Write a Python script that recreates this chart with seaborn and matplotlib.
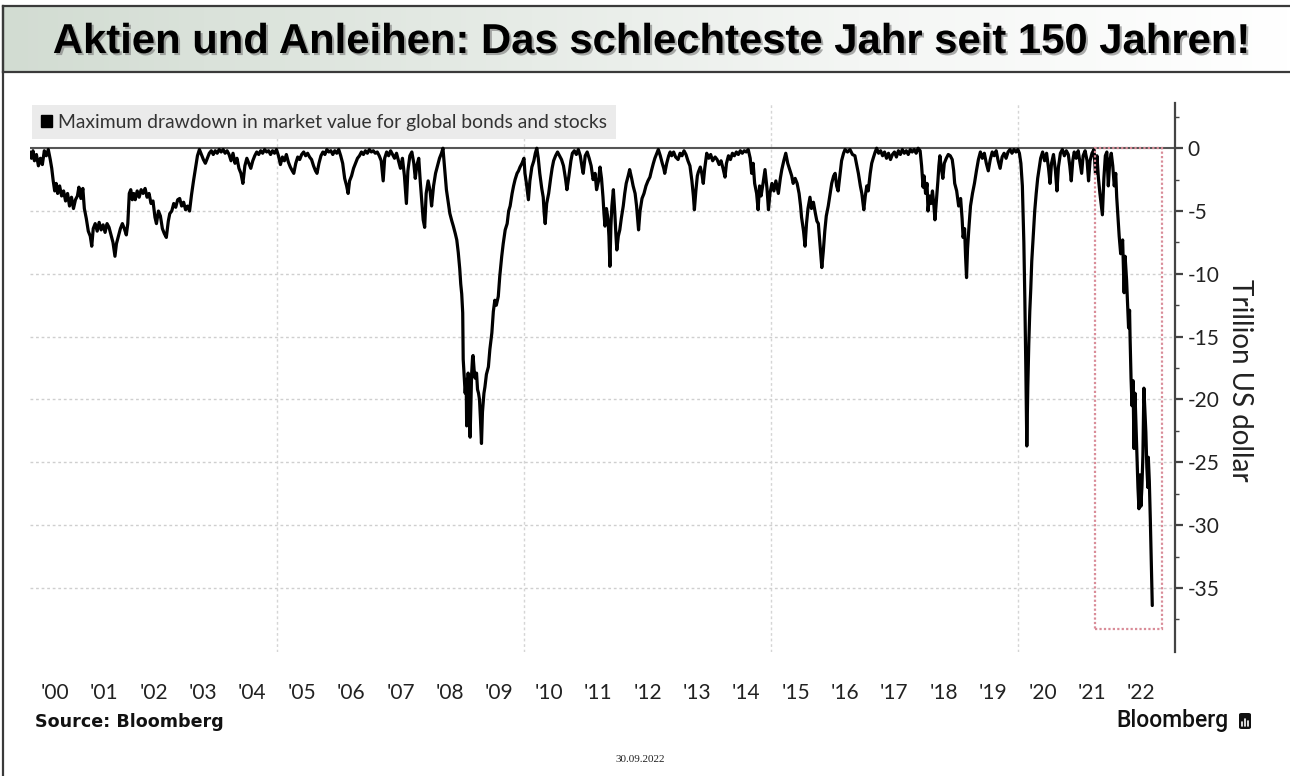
import numpy as np
import pandas as pd
import matplotlib
matplotlib.use("Agg")
import matplotlib.pyplot as plt
import seaborn as sns
from matplotlib.patches import Rectangle, Patch, FancyBboxPatch
from matplotlib.lines import Line2D
from matplotlib.colors import LinearSegmentedColormap
from matplotlib import patheffects as pe

# ---------------- data (years since 2000, drawdown in trillion USD) ----------------
era_2000_2003 = [
    (0.00, -0.3), (0.03, -0.8), (0.06, -0.2), (0.09, -1.0), (0.13, -0.5), (0.17, -1.4), (0.21, -0.8),
    (0.25, -1.3), (0.29, -0.2), (0.33, -0.6), (0.37, -0.1), (0.41, -0.9), (0.44, -1.6), (0.47, -2.6),
    (0.50, -3.4), (0.53, -2.8), (0.56, -3.6), (0.60, -3.0), (0.64, -3.8), (0.68, -3.4), (0.72, -4.2),
    (0.76, -3.6), (0.80, -4.6), (0.84, -3.9), (0.88, -4.8), (0.92, -4.1), (0.96, -3.8), (0.99, -3.1),
    (1.03, -4.0), (1.07, -3.2), (1.10, -4.8), (1.14, -5.6), (1.18, -6.6), (1.22, -7.0), (1.25, -7.8),
    (1.28, -6.4), (1.32, -6.0), (1.36, -6.6), (1.40, -5.9), (1.44, -6.5), (1.48, -6.1), (1.52, -6.7),
    (1.56, -6.0), (1.60, -6.3), (1.64, -6.9), (1.68, -7.5), (1.72, -8.6), (1.75, -7.6), (1.79, -7.0),
    (1.83, -6.4), (1.87, -6.0), (1.91, -6.4), (1.95, -6.9), (1.98, -6.0),
    (2.01, -3.6), (2.04, -3.3), (2.07, -4.1), (2.10, -3.6), (2.13, -4.1), (2.17, -3.4), (2.21, -3.9),
    (2.25, -3.3), (2.29, -3.6), (2.33, -3.2), (2.37, -3.9), (2.41, -3.6), (2.45, -4.4), (2.49, -4.2),
    (2.53, -5.5), (2.56, -6.0), (2.60, -5.0), (2.64, -5.4), (2.68, -6.4), (2.72, -6.8), (2.76, -7.1),
    (2.80, -5.8), (2.83, -5.2), (2.87, -5.0), (2.91, -4.4), (2.95, -4.7), (2.99, -4.1),
    (3.03, -4.0), (3.07, -4.6), (3.11, -4.3), (3.15, -4.9), (3.19, -4.6), (3.23, -5.0), (3.27, -3.7),
    (3.31, -2.6), (3.35, -1.6), (3.39, -0.6), (3.43, -0.1), (3.47, -0.5), (3.51, -0.9), (3.55, -1.2),
    (3.59, -0.8), (3.63, -0.4), (3.67, -0.2), (3.71, -0.5), (3.75, -0.2), (3.79, -0.4), (3.83, -0.1),
    (3.87, -0.3), (3.91, -0.1), (3.95, -0.4), (3.99, -0.2),
]

era_2004_2007 = [
    (4.03, -0.5), (4.07, -1.0), (4.11, -0.4), (4.15, -1.2), (4.19, -0.8), (4.23, -1.6), (4.27, -2.0),
    (4.31, -2.8), (4.35, -1.4), (4.39, -0.8), (4.43, -1.2), (4.47, -1.6), (4.51, -1.0), (4.55, -0.6),
    (4.59, -0.3), (4.63, -0.5), (4.67, -0.2), (4.71, -0.4), (4.75, -0.1), (4.79, -0.3), (4.83, -0.2),
    (4.87, -0.5), (4.91, -0.2), (4.95, -0.4), (4.99, -0.1),
    (5.03, -0.6), (5.07, -1.3), (5.11, -0.7), (5.15, -1.0), (5.19, -0.5), (5.23, -1.1), (5.27, -1.5),
    (5.31, -1.8), (5.34, -2.0), (5.38, -1.2), (5.42, -0.7), (5.46, -0.9), (5.50, -0.5), (5.54, -0.3),
    (5.58, -0.6), (5.62, -0.4), (5.66, -0.7), (5.70, -0.9), (5.74, -1.4), (5.78, -1.8), (5.81, -2.0),
    (5.85, -1.2), (5.89, -0.6), (5.93, -0.3), (5.97, -0.5),
    (6.01, -0.1), (6.05, -0.3), (6.09, -0.2), (6.13, -0.5), (6.17, -0.2), (6.21, -0.4), (6.25, -0.1),
    (6.29, -0.6), (6.33, -1.2), (6.37, -2.4), (6.41, -3.0), (6.44, -3.6), (6.47, -2.6), (6.51, -2.2),
    (6.55, -1.6), (6.59, -1.2), (6.63, -0.8), (6.67, -0.6), (6.71, -0.3), (6.75, -0.5), (6.79, -0.2),
    (6.83, -0.4), (6.87, -0.1), (6.91, -0.3), (6.95, -0.2), (6.99, -0.4),
    (7.03, -0.3), (7.07, -0.6), (7.11, -1.0), (7.15, -2.6), (7.18, -0.8), (7.22, -0.3), (7.26, -0.6),
    (7.30, -0.2), (7.34, -0.5), (7.38, -0.8), (7.42, -0.4), (7.46, -1.0), (7.50, -1.6), (7.54, -0.8),
    (7.58, -2.2), (7.62, -4.4), (7.65, -1.8), (7.69, -0.6), (7.73, -0.3), (7.77, -1.2), (7.80, -2.4),
    (7.83, -1.4), (7.87, -0.8), (7.90, -2.6), (7.93, -4.2), (7.96, -5.7), (7.99, -6.3),
]

era_2008_2010 = [
    (8.02, -3.6), (8.06, -2.6), (8.10, -3.4), (8.13, -4.6), (8.17, -3.0), (8.21, -2.0), (8.25, -1.4),
    (8.29, -0.8), (8.33, -0.4), (8.36, 0.0), (8.39, -1.4), (8.43, -3.3), (8.47, -4.4), (8.50, -5.2),
    (8.54, -5.8), (8.57, -6.2), (8.61, -6.8), (8.64, -7.3), (8.67, -8.3), (8.70, -9.6), (8.72, -10.8),
    (8.74, -11.6), (8.76, -13.1), (8.77, -16.8), (8.79, -18.2), (8.81, -19.5), (8.83, -18.4),
    (8.84, -22.1), (8.86, -19.8), (8.87, -17.9), (8.89, -20.2), (8.91, -23.0), (8.93, -19.4),
    (8.94, -18.0), (8.96, -16.6), (8.97, -16.5), (8.99, -17.6),
    (9.01, -18.3), (9.04, -17.9), (9.06, -19.2), (9.08, -19.5), (9.10, -20.0), (9.12, -21.6),
    (9.14, -23.5), (9.16, -21.0), (9.19, -19.5), (9.21, -19.0), (9.24, -18.0), (9.28, -17.4),
    (9.31, -16.0), (9.35, -14.7), (9.38, -13.0), (9.41, -12.1), (9.44, -12.5), (9.48, -11.8),
    (9.51, -10.2), (9.55, -8.6), (9.58, -7.6), (9.62, -6.5), (9.66, -6.0), (9.69, -5.0), (9.72, -4.6),
    (9.76, -3.6), (9.79, -3.0), (9.82, -2.5), (9.86, -2.0), (9.89, -1.8), (9.92, -1.5), (9.96, -1.2),
    (10.00, -0.8), (10.02, -2.0), (10.05, -2.8), (10.09, -4.1), (10.12, -2.6), (10.16, -1.5),
    (10.20, -1.0), (10.23, -0.4), (10.26, 0.0), (10.29, -0.8), (10.32, -2.0), (10.36, -3.2),
    (10.39, -3.9), (10.41, -5.2), (10.43, -6.0), (10.46, -4.4), (10.50, -3.6), (10.54, -2.4),
    (10.57, -1.6), (10.60, -1.0), (10.64, -0.6), (10.68, -0.3), (10.72, -0.6), (10.76, -0.9),
    (10.80, -1.4), (10.84, -2.4), (10.87, -3.3), (10.91, -2.2), (10.95, -1.0), (10.98, -0.4),
]

era_2011_2014 = [
    (11.02, -0.2), (11.06, -0.5), (11.10, -0.1), (11.14, -0.6), (11.18, -1.6), (11.20, -2.0),
    (11.24, -0.6), (11.28, -0.3), (11.32, -0.8), (11.36, -1.4), (11.40, -2.5), (11.44, -2.0),
    (11.47, -3.3), (11.51, -2.6), (11.54, -1.5), (11.57, -2.4), (11.60, -3.9), (11.62, -5.2),
    (11.64, -6.2), (11.67, -4.8), (11.70, -5.6), (11.72, -7.0), (11.74, -9.4), (11.76, -6.2),
    (11.78, -4.6), (11.81, -3.3), (11.84, -5.2), (11.86, -6.8), (11.88, -8.1), (11.91, -7.0),
    (11.94, -6.5), (11.97, -5.6),
    (12.01, -4.6), (12.04, -3.6), (12.07, -2.8), (12.11, -2.2), (12.14, -1.7), (12.18, -2.4),
    (12.21, -3.0), (12.25, -3.6), (12.28, -4.6), (12.30, -5.6), (12.32, -6.5), (12.35, -5.0),
    (12.39, -4.0), (12.43, -3.6), (12.47, -3.0), (12.51, -2.6), (12.55, -2.3), (12.58, -1.8),
    (12.62, -1.2), (12.65, -0.8), (12.69, -0.4), (12.72, -0.1), (12.76, -0.6), (12.80, -1.2),
    (12.83, -1.6), (12.85, -2.0), (12.89, -1.2), (12.93, -0.6), (12.96, -0.3), (12.99, -0.6),
    (13.03, -0.3), (13.07, -0.7), (13.12, -0.9), (13.16, -0.4), (13.20, -0.6), (13.24, -0.2),
    (13.28, -0.5), (13.32, -1.0), (13.36, -1.4), (13.40, -2.6), (13.43, -3.8), (13.45, -4.9),
    (13.48, -3.4), (13.51, -2.2), (13.53, -1.9), (13.57, -1.5), (13.60, -2.0), (13.63, -2.8),
    (13.66, -1.6), (13.70, -0.4), (13.74, -0.8), (13.78, -0.5), (13.82, -1.0), (13.87, -0.7),
    (13.91, -0.9), (13.95, -1.3), (13.99, -1.0),
    (14.03, -1.6), (14.07, -2.3), (14.10, -1.2), (14.14, -0.6), (14.18, -0.9), (14.22, -0.4),
    (14.26, -0.6), (14.30, -0.3), (14.34, -0.5), (14.38, -0.2), (14.42, -0.4), (14.46, -0.2),
    (14.50, -0.3), (14.54, -0.1), (14.58, -0.8), (14.61, -2.0), (14.64, -1.2), (14.67, -2.8),
    (14.71, -3.6), (14.74, -4.9), (14.77, -3.0), (14.80, -3.8), (14.84, -2.8), (14.88, -1.7),
    (14.92, -3.2), (14.95, -4.9), (14.98, -3.6),
]

era_2015_2018 = [
    (15.02, -2.8), (15.06, -3.4), (15.10, -2.6), (15.15, -3.6), (15.19, -2.4), (15.22, -1.7),
    (15.26, -1.0), (15.30, -0.4), (15.34, -1.2), (15.38, -1.7), (15.42, -2.2), (15.45, -2.8),
    (15.49, -2.4), (15.53, -2.8), (15.57, -3.6), (15.60, -4.6), (15.62, -5.5), (15.66, -6.6),
    (15.69, -7.8), (15.72, -6.0), (15.75, -4.8), (15.79, -3.9), (15.82, -4.8), (15.86, -4.3),
    (15.90, -5.2), (15.93, -5.8), (15.96, -6.0), (15.99, -7.5),
    (16.01, -8.6), (16.03, -9.5), (16.06, -8.2), (16.09, -6.6), (16.12, -5.4), (16.16, -4.6),
    (16.20, -3.6), (16.23, -2.8), (16.27, -2.2), (16.30, -2.0), (16.33, -3.0), (16.36, -3.4),
    (16.40, -2.0), (16.43, -1.0), (16.47, -0.4), (16.50, -0.1), (16.55, -0.3), (16.60, -0.1),
    (16.65, -0.5), (16.70, -0.6), (16.74, -1.4), (16.77, -2.0), (16.81, -3.0), (16.84, -3.6),
    (16.88, -4.9), (16.91, -3.8), (16.94, -3.0), (16.97, -3.4),
    (17.01, -2.0), (17.04, -1.2), (17.07, -0.8), (17.11, -0.3), (17.14, 0.0), (17.18, -0.4),
    (17.22, -0.2), (17.26, -0.6), (17.30, -0.3), (17.34, -0.8), (17.38, -0.4), (17.42, -0.9),
    (17.46, -0.5), (17.50, -0.3), (17.54, -0.7), (17.58, -0.2), (17.62, -0.5), (17.66, -0.1),
    (17.70, -0.4), (17.74, -0.2), (17.78, -0.5), (17.82, -0.1), (17.86, -0.3), (17.90, -0.1),
    (17.94, -0.4), (17.98, 0.0),
    (18.02, -0.2), (18.05, -1.4), (18.08, -3.1), (18.10, -2.2), (18.13, -3.6), (18.16, -2.8),
    (18.18, -5.0), (18.21, -3.8), (18.24, -4.4), (18.27, -3.4), (18.30, -4.6), (18.32, -5.7),
    (18.35, -4.2), (18.38, -2.6), (18.40, -1.4), (18.42, -0.6), (18.45, -1.6), (18.48, -2.4),
    (18.51, -1.2), (18.55, -0.8), (18.59, -0.5), (18.63, -0.6), (18.67, -0.9), (18.70, -1.8),
    (18.72, -2.8), (18.76, -3.4), (18.80, -4.6), (18.84, -4.0), (18.87, -5.6), (18.89, -7.1),
    (18.92, -6.4), (18.94, -8.6), (18.96, -10.3), (18.98, -8.0),
]

era_2019_2021 = [
    (19.01, -6.2), (19.04, -4.6), (19.08, -3.6), (19.12, -2.8), (19.16, -1.8), (19.20, -0.9),
    (19.24, -0.3), (19.28, -0.8), (19.32, -0.4), (19.36, -1.2), (19.40, -1.8), (19.44, -0.9),
    (19.48, -0.3), (19.52, -0.6), (19.56, -0.2), (19.60, -1.0), (19.64, -1.6), (19.68, -0.7),
    (19.72, -0.4), (19.76, -0.8), (19.80, -0.3), (19.84, -0.1), (19.88, -0.4), (19.92, -0.1),
    (19.96, -0.3),
    (20.00, -0.1), (20.03, -0.4), (20.06, -1.2), (20.09, -3.0), (20.12, -7.5), (20.14, -12.0),
    (20.16, -17.5), (20.18, -23.7), (20.20, -19.0), (20.22, -15.6), (20.24, -13.0), (20.26, -11.2),
    (20.28, -9.0), (20.31, -7.0), (20.34, -5.0), (20.37, -3.6), (20.40, -2.4), (20.43, -1.6),
    (20.46, -0.8), (20.50, -0.3), (20.54, -1.0), (20.58, -0.4), (20.62, -1.6), (20.65, -2.8),
    (20.68, -1.2), (20.72, -0.5), (20.76, -1.8), (20.79, -3.4), (20.82, -1.5), (20.86, -0.4),
    (20.90, -0.1), (20.94, -0.6), (20.98, -0.2),
    (21.02, -0.5), (21.05, -1.4), (21.08, -2.6), (21.11, -1.0), (21.14, -0.3), (21.18, -0.8),
    (21.22, -0.2), (21.26, -1.2), (21.29, -2.0), (21.32, -0.6), (21.36, -0.2), (21.40, -1.0),
    (21.43, -2.6), (21.46, -1.0), (21.50, -0.4), (21.54, -0.1), (21.57, -2.0), (21.60, -0.6),
    (21.63, -2.4), (21.66, -3.6), (21.69, -4.6), (21.71, -5.3), (21.74, -2.4), (21.77, -0.6),
    (21.80, -0.3), (21.83, -3.0), (21.86, -1.0), (21.89, -0.4), (21.92, -1.4), (21.95, -3.0),
    (21.98, -2.0),
]

era_2022 = [
    (22.00, -3.9), (22.01, -4.5), (22.05, -7.0), (22.08, -8.4), (22.12, -7.3), (22.15, -11.5),
    (22.17, -8.6), (22.20, -10.5), (22.24, -14.3), (22.26, -12.9), (22.27, -15.0), (22.29, -18.3),
    (22.31, -20.5), (22.33, -18.5), (22.35, -23.9), (22.37, -19.5), (22.39, -22.0), (22.41, -24.4),
    (22.43, -27.0), (22.45, -28.7), (22.47, -26.0), (22.49, -28.5), (22.51, -27.0), (22.53, -24.5),
    (22.55, -19.1), (22.57, -20.8), (22.59, -22.6), (22.61, -25.4), (22.63, -27.0), (22.64, -24.6),
    (22.66, -26.5), (22.68, -29.5), (22.70, -33.0), (22.72, -36.4),
]

year_labels = ["'%02d" % y for y in range(0, 23)]
y_ticks = [0, -5, -10, -15, -20, -25, -30, -35]
y_minor = [2.5, -2.5, -7.5, -12.5, -17.5, -22.5, -27.5, -32.5, -37.5]
grid_years = [2005, 2010, 2015, 2020]
highlight = (2021.56, 2022.91, -38.3)  # red dotted box: start, end, bottom

title = "Aktien und Anleihen: Das schlechteste Jahr seit 150 Jahren!"
legend_label = "Maximum drawdown in market value for global bonds and stocks"
ylabel = "Trillion US dollar"

rows = []
for era in (era_2000_2003, era_2004_2007, era_2008_2010, era_2011_2014,
            era_2015_2018, era_2019_2021, era_2022):
    rows.extend(era)
df = pd.DataFrame(rows, columns=["t", "value"])
df["year"] = 2000 + df["t"]

# ---------------- figure ----------------
sns.set_theme(style="white")
plt.rcParams['font.family'] = ['Lato', 'DejaVu Sans']

W, H = 1290, 776
fig = plt.figure(figsize=(W / 100, H / 100), dpi=100)
fig.patch.set_facecolor("white")

def fx(px):
    return px / W

def fy(py):
    return 1 - py / H

# title band with gradient
band = fig.add_axes([fx(3), fy(72), fx(1292) - fx(3), fy(6) - fy(72)])
grad = np.linspace(0, 1, 256)[None, :]
cmap = LinearSegmentedColormap.from_list("band", ["#d2dcd2", "#e3e9e3", "#f4f6f4", "#ffffff"])
band.imshow(grad, aspect="auto", cmap=cmap, extent=[0, 1, 0, 1])
band.set_xticks([]); band.set_yticks([])
for s in band.spines.values():
    s.set_color("#3a3a3a"); s.set_linewidth(1.6)
fig.add_artist(Line2D([fx(3), fx(3)], [0, fy(6)], color="#3a3a3a", lw=1.6,
                      transform=fig.transFigure))

t = fig.text(fx(651), fy(42), title, fontsize=26, fontweight="bold",
             family=["Liberation Sans", "DejaVu Sans"],
             ha="center", va="center", color="black",
             path_effects=[pe.SimplePatchShadow(offset=(1.5, -1.5), shadow_rgbFace="#777777", alpha=0.6),
                           pe.Normal()])

# main axes
ax = fig.add_axes([fx(30), fy(652), fx(1175) - fx(30), fy(103) - fy(652)])
ax.set_facecolor("white")
for yv in y_ticks[1:]:
    ax.axhline(yv, color="#cfcfcf", lw=1.0, ls=(0, (2, 2)), zorder=0)
for gx in grid_years:
    ax.axvline(gx, color="#d5d5d5", lw=1.0, ls=(0, (2, 2)), zorder=0)
ax.axhline(0, color="#555555", lw=1.5, zorder=1)

sns.lineplot(data=df, x="year", y="value", ax=ax, color="black", lw=2.3,
             estimator=None, legend=False, zorder=3)

ax.add_patch(Rectangle((highlight[0], highlight[2]), highlight[1] - highlight[0], -highlight[2],
                       fill=False, edgecolor="#d98c98", lw=1.6, ls=(0, (1, 1)), zorder=4))

ax.set_xlim(2000, 2023.18)
ax.set_ylim(-40.1, 3.6)
ax.set_xlabel("")
ax.set_xticks([2000.5 + i for i in range(23)])
ax.set_xticklabels(year_labels)
ax.tick_params(axis="x", length=0, labelsize=15, pad=22, labelcolor="#222222")

ax.yaxis.tick_right()
ax.set_yticks(y_ticks)
ax.set_yticklabels([str(v) for v in y_ticks])
ax.set_yticks(y_minor, minor=True)
ax.tick_params(axis="y", which="major", direction="out", length=6, width=1.6, color="#444444",
               labelsize=15, pad=3, labelcolor="#222222", right=True, left=False)
ax.tick_params(axis="y", which="minor", direction="out", length=3, width=1.0, color="#444444",
               right=True, left=False)
ax.set_ylabel(ylabel, rotation=-90, fontsize=20, color="#222222", va="center", ha="center")
ax.yaxis.set_label_coords(1.057, 0.495)

for side in ("left", "top", "bottom"):
    ax.spines[side].set_visible(False)
ax.spines["right"].set_visible(True)
ax.spines["right"].set_color("#444444")
ax.spines["right"].set_linewidth(1.6)

leg = ax.legend(handles=[Patch(facecolor="black", edgecolor="black")], labels=[legend_label],
                loc="upper left", bbox_to_anchor=(0.0, 1.0), frameon=True, fancybox=False,
                facecolor="#ebebeb", edgecolor="none", framealpha=1, fontsize=13.9,
                handlelength=0.6, handleheight=0.6, handletextpad=0.3, borderpad=0.45,
                borderaxespad=0.1)
for txt in leg.get_texts():
    txt.set_color("#333333")

# footer texts
fig.text(fx(35), fy(722), "Source: Bloomberg", fontsize=12.6, fontweight="bold", ha="left",
         va="center", color="#111111", family=["DejaVu Sans"])
fig.text(fx(1228), fy(721), "Bloomberg", fontsize=16.5, fontweight=500, ha="right",
         va="center", color="#111111", family=["Roboto", "DejaVu Sans"])
logo = FancyBboxPatch((fx(1239), fy(729)), fx(12), fy(713) - fy(729),
                      boxstyle="round,pad=0,rounding_size=0.002", transform=fig.transFigure,
                      facecolor="#111111", edgecolor="none")
fig.add_artist(logo)
for i, h in enumerate([4, 7, 5]):
    fig.add_artist(Line2D([fx(1242 + 3 * i)] * 2, [fy(726), fy(726 - h)], color="white", lw=1.2,
                          transform=fig.transFigure))
fig.text(fx(640), fy(760), "30.09.2022", fontsize=8, family=["Liberation Serif", "DejaVu Serif"],
         ha="center", va="center", color="#222222")

# fit title width to the reference (~1198 px)
fig.canvas.draw()
r = fig.canvas.get_renderer()
w = t.get_window_extent(r).width
t.set_fontsize(26 * 1198 / w)

fig.savefig("out.png", dpi=100, facecolor="white")
